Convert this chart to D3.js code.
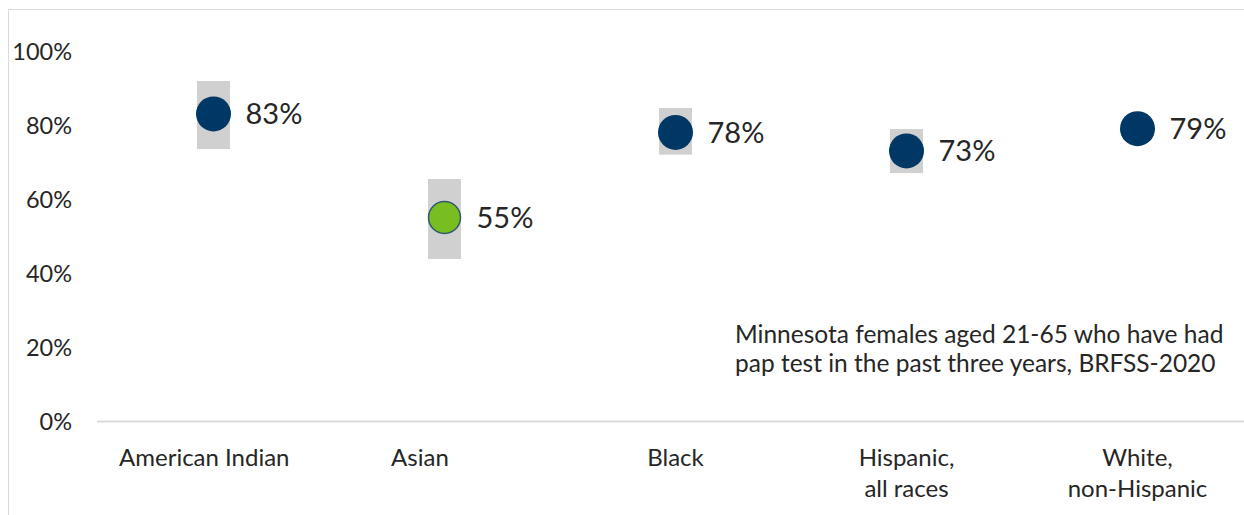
<!DOCTYPE html>
<html>
<head>
<meta charset="utf-8">
<script src="https://cdn.jsdelivr.net/npm/d3@7"></script>
<style>
  html, body { margin: 0; padding: 0; background: #fff; overflow: hidden; }
  text { font-family: Lato, "Open Sans", sans-serif; fill: #262626; white-space: pre; }
</style>
</head>
<body>
<svg id="chart"></svg>
<script>
const width = 1244
const height = 515

// chart values
const categories = ['American Indian', 'Asian', 'Black', 'Hispanic,\nall races', 'White,\nnon-Hispanic']
// the source labels carry trailing padding, so two of them sit left of their points
const catLabelText = ['American Indian\u00a0\u00a0\u00a0', 'Asian\u00a0\u00a0\u00a0\u00a0\u00a0\u00a0\u00a0\u00a0', 'Black', 'Hispanic,\nall races', 'White,\nnon-Hispanic']
const rates = [0.83, 0.55, 0.78, 0.73, 0.79]
const lowerCI = [0.735, 0.438, 0.72, 0.67, 0.775]
const upperCI = [0.919, 0.654, 0.846, 0.789, 0.805]
const sigDiff = [false, true, false, false, false]
const yTicks = [0, 0.2, 0.4, 0.6, 0.8, 1.0]
const note = ['Minnesota females aged 21-65 who have had', 'pap test in the past three years, BRFSS-2020']

const navy = '#003865'
const green = '#78be21'

const svg = d3.select('#chart')
    .attr('width', width)
    .attr('height', height)

// faint frame round the chart area
svg.append('path')
    .attr('d', `M8.5,${height} V9.5 H${width}`)
    .attr('fill', 'none')
    .attr('stroke', '#d9d9d9')

const x = d3.scaleBand()
    .domain(categories)
    .range([98, 1253])

const y = d3.scaleLinear()
    .domain([0, 1])
    .range([421, 51])

// y axis labels only
const yAxis = svg.append('g')
    .attr('transform', 'translate(72,0)')
    .call(d3.axisLeft(y).tickValues(yTicks).tickFormat(d3.format('.0%')).tickSize(0).tickPadding(0))
yAxis.select('.domain').remove()
yAxis.selectAll('text')
    .style('font-size', '23.5px')
    .attr('fill', '#262626')
    .attr('dy', '0.36em')

// baseline
svg.append('line')
    .attr('x1', 97).attr('x2', width)
    .attr('y1', y(0) + 0.5).attr('y2', y(0) + 0.5)
    .attr('stroke', '#d9d9d9')
    .attr('stroke-width', 2)

// category labels
const catLabels = svg.append('g')
    .selectAll('text')
    .data(categories)
    .join('text')
    .attr('x', d => x(d) + x.bandwidth() / 2)
    .attr('y', 466)
    .attr('text-anchor', 'middle')
    .style('font-size', '24px')

catLabels.selectAll('tspan')
    .data((d, i) => catLabelText[i].split('\n'))
    .join('tspan')
    .attr('x', function () { return d3.select(this.parentNode).attr('x') })
    .attr('dy', (d, i) => i === 0 ? 0 : 31)
    .text(d => d)

const points = categories.map((c, i) => ({
    cat: c,
    rate: rates[i],
    lo: lowerCI[i],
    hi: upperCI[i],
    sig: sigDiff[i]
}))

const g = svg.append('g')

// confidence interval boxes
g.selectAll('rect.ci')
    .data(points)
    .join('rect')
    .attr('class', 'ci')
    .attr('x', d => x(d.cat) + x.bandwidth() / 2 - 16.5)
    .attr('width', 33)
    .attr('y', d => y(d.hi))
    .attr('height', d => y(d.lo) - y(d.hi))
    .attr('fill', '#d0d0d0')

g.selectAll('circle')
    .data(points)
    .join('circle')
    .attr('cx', d => x(d.cat) + x.bandwidth() / 2)
    .attr('cy', d => y(d.rate))
    .attr('r', d => d.sig ? 16 : 17.5)
    .attr('fill', d => d.sig ? green : navy)
    .attr('stroke', d => d.sig ? '#2f5a6e' : 'none')
    .attr('stroke-width', 1.5)

g.selectAll('text.val')
    .data(points)
    .join('text')
    .attr('class', 'val')
    .attr('x', d => x(d.cat) + x.bandwidth() / 2 + 32)
    .attr('y', d => y(d.rate))
    .attr('dy', '0.36em')
    .style('font-size', '29px')
    .text(d => d3.format('.0%')(d.rate))

// note text
svg.append('g')
    .selectAll('text')
    .data(note)
    .join('text')
    .attr('x', 735)
    .attr('y', (d, i) => 343 + i * 29)
    .style('font-size', '24.5px')
    .text(d => d)
</script>
</body>
</html>
